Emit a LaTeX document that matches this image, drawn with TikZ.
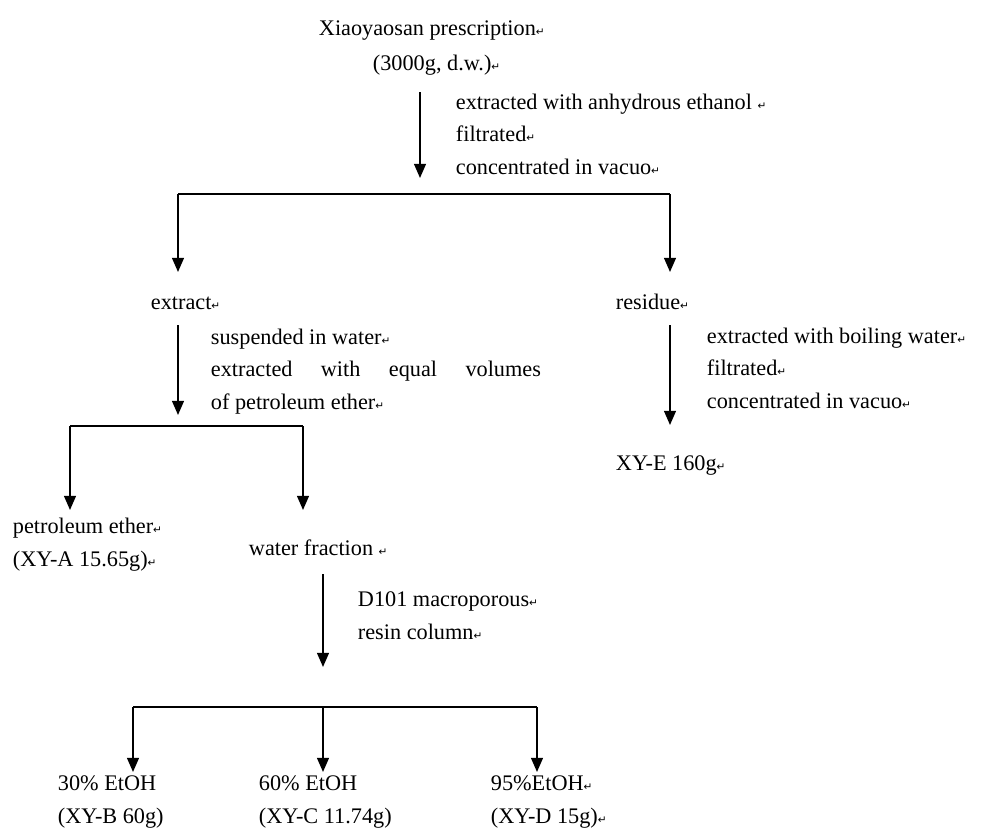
\documentclass[tikz,border=0pt]{standalone}
\usepackage{fontspec}
\setmainfont{Liberation Serif}
\newfontfamily\retfont{DejaVu Sans}
\newcommand{\ret}{{\retfont\fontsize{9}{9}\selectfont ↵}}
\usetikzlibrary{arrows.meta}

\begin{document}
\begin{tikzpicture}[
    x=0.03cm, y=-0.03cm,
    font=\fontsize{19}{27.5}\selectfont,
    line width=1.6pt,
    >={Triangle[length=12pt,width=10pt]},
    txt/.style={anchor=base west, inner sep=0pt, align=left}
]
\useasboundingbox (0,0) rectangle (997,828);

% ----------------------
% Nodes (multi-line texts sit on their last baseline)
% ----------------------

% starting material
\node[txt] (xys) at (318,35) {Xiaoyaosan prescription\ret};
\node[txt] (dw) at (372,70) {(3000g, d.w.)\ret};
\node[txt] (proc1) at (455,174) {extracted with anhydrous ethanol \ret\\filtrated\ret\\concentrated in vacuo\ret};

% first split
\node[txt] (extract) at (150,309) {extract\ret};
\node[txt] (residue) at (615,309) {residue\ret};
\node[txt] (proc2) at (210,409) {suspended in water\ret\\\makebox[9.9cm][s]{extracted with equal volumes}\\of petroleum ether\ret};
\node[txt] (proc3) at (706,408) {extracted with boiling water\ret\\filtrated\ret\\concentrated in vacuo\ret};
\node[txt] (xye) at (615,470) {XY-E 160g\ret};

% second split
\node[txt] (pe) at (12,566) {petroleum ether\ret\\(XY-A 15.65g)\ret};
\node[txt] (water) at (248,555) {water fraction \ret};
\node[txt] (proc4) at (357,639) {D101 macroporous\ret\\resin column\ret};

% ethanol fractions
\node[txt] (xyb) at (57,823) {30\% EtOH\\(XY-B 60g)};
\node[txt] (xyc) at (258,823) {60\% EtOH\\(XY-C 11.74g)};
\node[txt] (xyd) at (490,823) {95\%EtOH\ret\\(XY-D 15g)\ret};

% ----------------------
% Arrows
% ----------------------

% extraction with ethanol
\coordinate (a1) at (420,92);
\coordinate (a1e) at (420,178);
\draw[->] (a1) -- (a1e);

% extract / residue
\coordinate (s1l) at (178,194);
\coordinate (s1r) at (670,194);
\draw (s1l) -- (s1r);
\draw[->] (s1l) -- ++(0,78);
\draw[->] (s1r) -- ++(0,78);

% partition with petroleum ether
\coordinate (a2) at (178,325);
\coordinate (a2e) at (178,415);
\draw[->] (a2) -- (a2e);

\coordinate (s2l) at (70,426);
\coordinate (s2r) at (303,426);
\draw (s2l) -- (s2r);
\draw[->] (s2l) -- ++(0,84);
\draw[->] (s2r) -- ++(0,84);

% residue to XY-E
\coordinate (a3) at (670,325);
\coordinate (a3e) at (670,425);
\draw[->] (a3) -- (a3e);

% resin column
\coordinate (a4) at (323,574);
\coordinate (a4e) at (323,667);
\draw[->] (a4) -- (a4e);

\coordinate (s3l) at (133,707);
\coordinate (s3m) at (323,707);
\coordinate (s3r) at (537,707);
\draw (s3l) -- (s3r);
\foreach \c in {s3l,s3m,s3r}
    \draw[->] (\c) -- ++(0,65);

\end{tikzpicture}
\end{document}
